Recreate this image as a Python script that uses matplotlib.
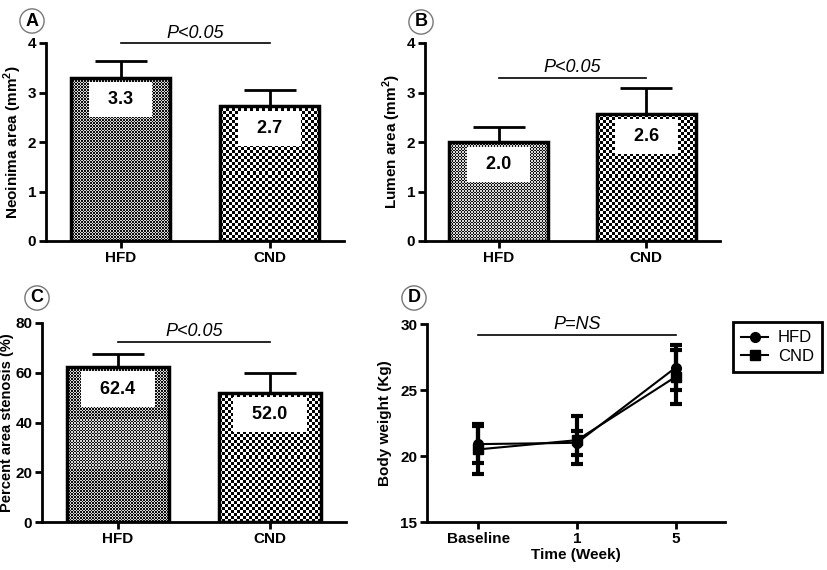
import numpy as np
import matplotlib
matplotlib.use('Agg')
import matplotlib.pyplot as plt
from matplotlib.lines import Line2D
from matplotlib.colors import ListedColormap

# ---------------- data ----------------
groups = ['HFD', 'CND']
neointima = [3.30, 2.73]
neointima_err = [0.34, 0.33]
neointima_lbl = ['3.3', '2.7']
lumen = [2.00, 2.56]
lumen_err = [0.31, 0.53]
lumen_lbl = ['2.0', '2.6']
stenosis = [62.4, 52.0]
stenosis_err = [5.1, 7.9]
stenosis_lbl = ['62.4', '52.0']

time_labels = ['Baseline', '1', '5']
hfd_weight = [20.9, 21.0, 26.7]
hfd_weight_err = [1.4, 0.9, 1.7]
cnd_weight = [20.5, 21.2, 26.0]
cnd_weight_err = [1.9, 1.8, 2.05]

FONT = ['Liberation Sans', 'DejaVu Sans']
plt.rcParams['font.family'] = FONT
plt.rcParams['axes.linewidth'] = 2
plt.rcParams['mathtext.fontset'] = 'custom'
plt.rcParams['mathtext.rm'] = 'Liberation Sans'
plt.rcParams['mathtext.bf'] = 'Liberation Sans:bold'

fig = plt.figure(figsize=(8.27, 5.7), dpi=100)

pos = {
    'A': [46/827, 1-241/570, 298/827, 198/570],
    'B': [425/827, 1-241/570, 295/827, 198/570],
    'C': [42/827, 1-522/570, 304/827, 199/570],
    'D': [427/827, 1-522/570, 298/827, 198/570],
}


def style_axes(ax):
    for s in ['top', 'right']:
        ax.spines[s].set_visible(False)
    ax.tick_params(direction='out', length=5, width=2, labelsize=11, pad=2)
    for lab in ax.get_xticklabels() + ax.get_yticklabels():
        lab.set_fontweight('bold')


def checker_fill(ax, patch, cell_px, dark, light):
    x0, y0 = patch.get_x(), patch.get_y()
    w, h = patch.get_width(), patch.get_height()
    px0, py0 = ax.transData.transform((x0, y0))
    px1, py1 = ax.transData.transform((x0 + w, y0 + h))
    nx = max(1, int(round(abs(px1 - px0) / cell_px)))
    ny = max(1, int(round(abs(py1 - py0) / cell_px)))
    arr = np.add.outer(np.arange(ny), np.arange(nx)) % 2
    im = ax.imshow(arr, extent=(x0, x0 + w, y0, y0 + h), origin='lower',
                   cmap=ListedColormap([light, dark]), interpolation='nearest',
                   aspect='auto', zorder=1)
    im.set_clip_path(patch)


def bar_panel(ax, vals, errs, lbls, ylim, yticks, ylabel, pline_y, ptext, ylab_size=11):
    x = np.arange(len(groups))
    ax.set_xlim(-0.5, 1.5)
    ax.set_ylim(*ylim)
    bars = ax.bar(x, vals, width=0.67, facecolor='none', edgecolor='black',
                  linewidth=2.5, zorder=3)
    ax.errorbar(x, vals, yerr=[np.zeros(len(vals)), errs], fmt='none',
                ecolor='black', elinewidth=2, capsize=18.5, capthick=2, zorder=2)
    checker_fill(ax, bars[0], 1.5, '#101010', '#d8d8d8')
    checker_fill(ax, bars[1], 3.0, '#000000', '#ffffff')
    ax.set_xlim(-0.5, 1.5)
    ax.set_ylim(*ylim)
    for xi, v, l in zip(x, vals, lbls):
        ax.annotate('  ' + l + '  ', xy=(xi, v), xytext=(0, -16), textcoords='offset points',
                    ha='center', va='center', fontsize=13, fontweight='bold', zorder=4,
                    bbox=dict(boxstyle='square,pad=0.5', fc='white', ec='none'))
    ax.set_xticks(x)
    ax.set_xticklabels(groups)
    ax.set_yticks(yticks)
    ax.set_ylabel(ylabel, fontsize=ylab_size, fontweight='bold', labelpad=3)
    ax.plot([0, 1], [pline_y, pline_y], color='black', lw=1.2, clip_on=False)
    ax.annotate(ptext, xy=(0.5, pline_y), xytext=(0, 1), textcoords='offset points',
                ha='center', va='bottom', fontsize=13, style='italic', annotation_clip=False)
    style_axes(ax)


axA = fig.add_axes(pos['A'])
bar_panel(axA, neointima, neointima_err, neointima_lbl, (0, 4), [0, 1, 2, 3, 4],
          'Neoinima area (mm$^\\mathbf{2}$)', 4.0, 'P<0.05')
axB = fig.add_axes(pos['B'])
bar_panel(axB, lumen, lumen_err, lumen_lbl, (0, 4), [0, 1, 2, 3, 4],
          'Lumen area (mm$^\\mathbf{2}$)', 3.3, 'P<0.05')
axC = fig.add_axes(pos['C'])
bar_panel(axC, stenosis, stenosis_err, stenosis_lbl, (0, 80), [0, 20, 40, 60, 80],
          'Percent area stenosis (%)', 72.5, 'P<0.05', ylab_size=10.5)
axC.yaxis.labelpad = 1

# Panel D
axD = fig.add_axes(pos['D'])
xt = np.arange(len(time_labels))
axD.errorbar(xt, cnd_weight, yerr=cnd_weight_err, fmt='-s', color='black', ms=7,
             lw=1.5, elinewidth=3, capsize=4.5, capthick=3, zorder=3)
axD.errorbar(xt, hfd_weight, yerr=hfd_weight_err, fmt='-o', color='black', ms=7,
             lw=1.5, elinewidth=3, capsize=4.5, capthick=3, zorder=3)
axD.set_xlim(-0.52, 2.5)
axD.set_ylim(15, 30)
axD.set_yticks([15, 20, 25, 30])
axD.set_xticks(xt)
axD.set_xticklabels(time_labels)
axD.set_ylabel('Body weight (Kg)', fontsize=11, fontweight='bold', labelpad=6)
axD.set_xlabel('Time (Week)', fontsize=11, fontweight='bold', labelpad=2)
axD.plot([0, 2], [29.2, 29.2], color='black', lw=1.2, clip_on=False)
axD.annotate('P=NS', xy=(1, 29.2), xytext=(0, 1), textcoords='offset points',
             ha='center', va='bottom', fontsize=13, style='italic', annotation_clip=False)
style_axes(axD)

handles = [Line2D([], [], color='black', marker='o', ms=7, lw=1.5),
           Line2D([], [], color='black', marker='s', ms=7, lw=1.5)]
leg = fig.legend(handles, ['HFD', 'CND'], loc='upper left',
                 bbox_to_anchor=(733/827, 1-322/570), bbox_transform=fig.transFigure,
                 borderaxespad=0, fancybox=False, edgecolor='black', fontsize=12,
                 handlelength=1.6, handletextpad=0.6, labelspacing=0.2,
                 borderpad=0.5, framealpha=1)
leg.get_frame().set_linewidth(2)

# Circled panel letters
for letter, (cx, cy) in {'A': (32, 21), 'B': (421, 22), 'C': (37, 298), 'D': (414, 298)}.items():
    fig.text(cx/827, 1-cy/570, letter, ha='center', va='center', fontsize=13,
             fontweight='bold',
             bbox=dict(boxstyle='circle,pad=0.2', fc='white', ec='#777777', lw=1))

fig.savefig('out.png', dpi=100)
